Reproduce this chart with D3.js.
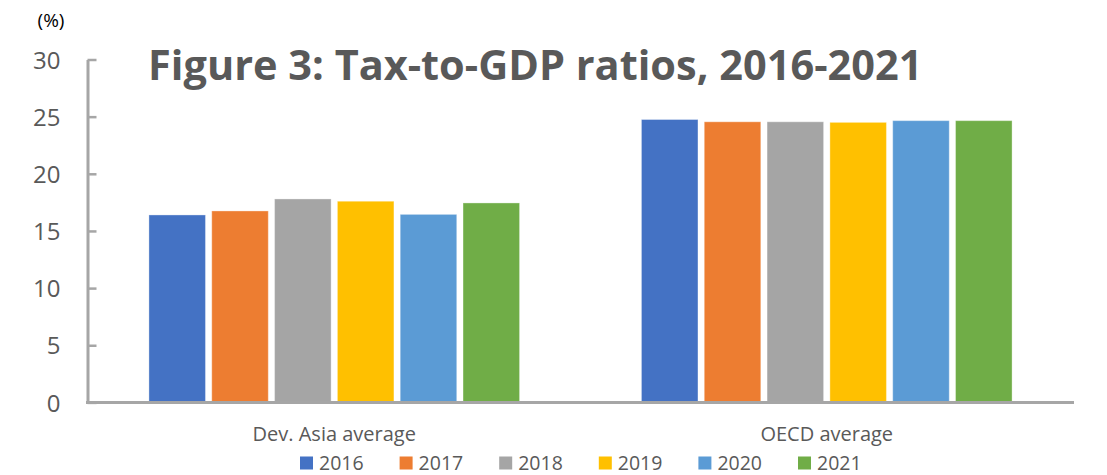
<!DOCTYPE html>
<html>
<head>
<meta charset="utf-8">
<script src="https://cdn.jsdelivr.net/npm/d3@7"></script>
<style>
  html, body { margin: 0; padding: 0; background: #fff; }
  svg { display: block; font-family: "Open Sans", "DejaVu Sans", sans-serif; }
</style>
</head>
<body>
<svg id="chart" width="1107" height="475"></svg>
<script>
// Tax revenue as a share of GDP, by region and year
const categories = ["Dev. Asia average", "OECD average"];
const years = ["2016", "2017", "2018", "2019", "2020", "2021"];
const devAsia = [16.4, 16.75, 17.8, 17.6, 16.45, 17.45];
const oecd = [24.75, 24.55, 24.55, 24.5, 24.65, 24.65];
const yTicks = [0, 5, 10, 15, 20, 25, 30];
const colors = ["#4472C4", "#ED7D31", "#A5A5A5", "#FFC000", "#5B9BD5", "#70AD47"];

const seriesByCategory = [devAsia, oecd];
const textColor = "#595959";
const axisColor = "#A6A6A6";

const svg = d3.select("#chart");

const x0 = d3.scaleBand().domain(categories).range([88, 1073]).padding(0);
const x1 = d3.scaleBand().domain(years).range([0, x0.bandwidth()])
  .paddingInner(0.1).paddingOuter(0.97);
const y = d3.scaleLinear().domain([0, 30]).range([402.4, 59.5]);
const color = d3.scaleOrdinal().domain(years).range(colors);

// Bars
const groups = svg.append("g").selectAll("g")
  .data(categories)
  .join("g")
  .attr("transform", d => `translate(${x0(d)},0)`);

groups.selectAll("rect")
  .data((c, i) => years.map((yr, j) => ({ year: yr, value: seriesByCategory[i][j] })))
  .join("rect")
  .attr("x", d => x1(d.year))
  .attr("width", x1.bandwidth())
  .attr("y", d => y(d.value))
  .attr("height", d => y(0) - y(d.value))
  .attr("fill", d => color(d.year))
  .attr("stroke", "rgba(255,255,255,0.35)")
  .attr("stroke-width", 1);

// Y axis: ticks point into the plot, labels to the left
const yAxis = svg.append("g")
  .attr("transform", "translate(87.5,0)")
  .call(d3.axisLeft(y).tickValues(yTicks).tickSizeInner(-9).tickSizeOuter(0).tickPadding(27));
yAxis.select(".domain").attr("stroke", axisColor).attr("stroke-width", 3);
yAxis.selectAll(".tick line").attr("stroke", axisColor).attr("stroke-width", 2.5);
yAxis.selectAll(".tick text")
  .attr("fill", textColor)
  .style("font-size", "24px")
  .style("font-family", "'Open Sans', sans-serif")
  .attr("dy", "0.36em");

// X axis
const xAxis = svg.append("g")
  .attr("transform", `translate(0,${y(0)})`)
  .call(d3.axisBottom(x0).tickSize(0).tickPadding(24));
xAxis.select(".domain")
  .attr("stroke", axisColor).attr("stroke-width", 3)
  .attr("d", "M86,0H1074");
xAxis.selectAll(".tick text")
  .attr("fill", textColor)
  .style("font-size", "20px")
  .style("font-family", "'Open Sans', sans-serif");

// Unit label
svg.append("text")
  .attr("x", 51).attr("y", 27)
  .attr("text-anchor", "middle")
  .attr("fill", "#000")
  .style("font-size", "19px")
  .text("(%)");

// Title
svg.append("text")
  .attr("x", 148).attr("y", 80)
  .attr("fill", textColor)
  .style("font-size", "41.5px")
  .style("font-weight", "bold")
  .text("Figure 3: Tax-to-GDP ratios, 2016-2021");

// Legend
const legend = svg.append("g").selectAll("g")
  .data(years)
  .join("g")
  .attr("transform", (d, i) => `translate(${300 + i * 99.6},0)`);
legend.append("rect")
  .attr("x", 0).attr("y", 456.5)
  .attr("width", 13).attr("height", 13)
  .attr("fill", d => color(d));
legend.append("text")
  .attr("x", 19).attr("y", 469.5)
  .attr("fill", textColor)
  .style("font-size", "19.5px")
  .text(d => d);
</script>
</body>
</html>
